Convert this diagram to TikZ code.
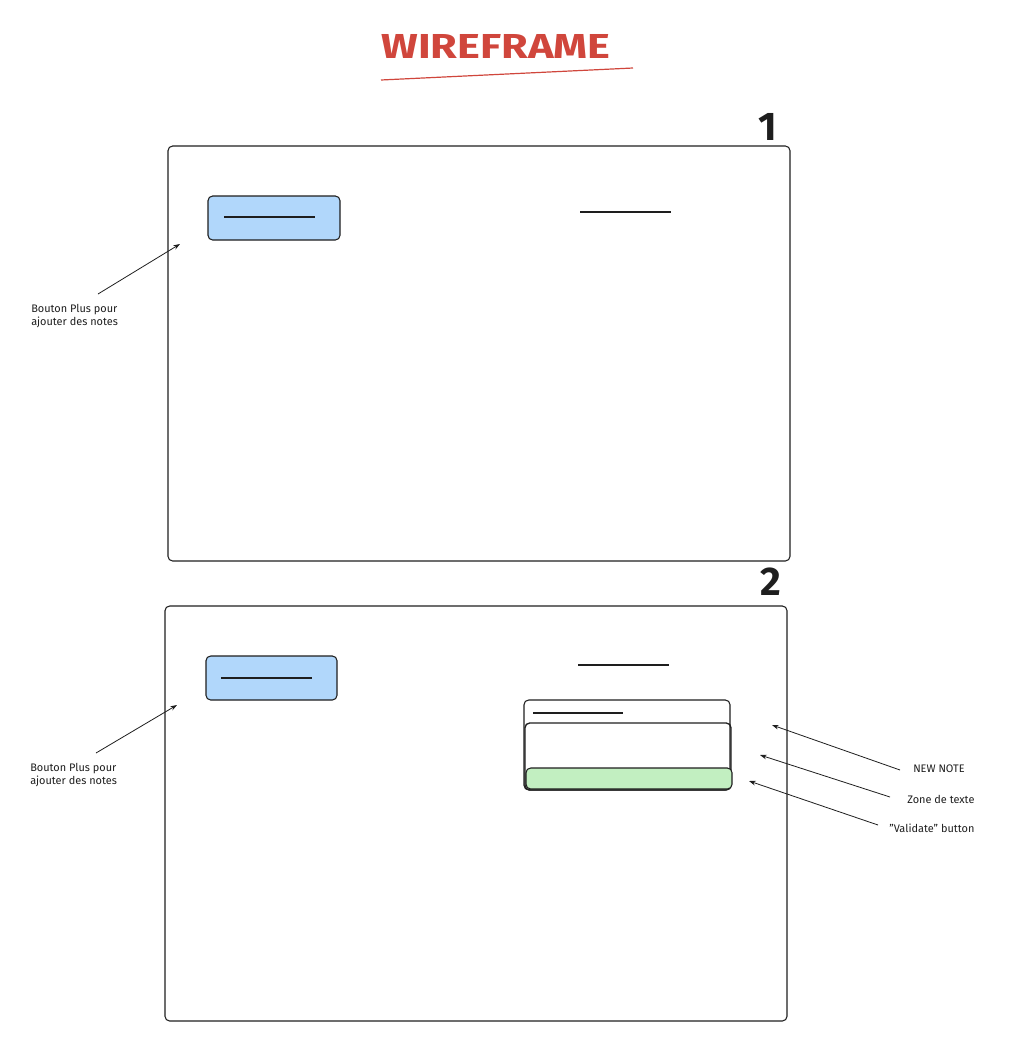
\documentclass[tikz,border=0pt]{standalone}
\usepackage{fontspec}
\setmainfont{Fira Sans}
\usetikzlibrary{arrows.meta}
\definecolor{ink}{HTML}{1E1E1E}
\definecolor{titlered}{HTML}{D0463C}
\definecolor{btnblue}{HTML}{B1D7FB}
\definecolor{btngreen}{HTML}{C2EFC1}
\begin{document}
\begin{tikzpicture}[x=0.75pt,y=-0.75pt,
  frame/.style={draw=ink,line width=0.8pt,rounded corners=3.5pt},
  bluebtn/.style={draw=ink,fill=btnblue,line width=0.8pt,rounded corners=3.5pt},
  greenbtn/.style={draw=ink,fill=btngreen,line width=0.8pt,rounded corners=3.5pt},
  bar/.style={draw=ink,line width=0.8pt},
  arr/.style={draw=ink,line width=0.6pt,-{Stealth[length=5pt,width=3.5pt]}},
  lbl/.style={font=\fontsize{8.2}{9.8}\selectfont,text=ink,inner sep=0pt,align=left},
  num/.style={font=\fontsize{30}{30}\selectfont\bfseries,text=ink,inner sep=0pt}]
\useasboundingbox (0,0) rectangle (1012,1064);
% title
\node[font=\fontsize{26}{26}\selectfont\bfseries,text=titlered,inner sep=0pt] (title) at (496,46) {\scalebox{1.25}[1]{WIREFRAME}};
\draw[titlered,line width=0.9pt] (381,80) -- (633,68);
% screen 1
\draw[frame] (168,146) rectangle (790,561);
\node[num] (n1) at (768,127) {1};
\draw[bluebtn] (208,196) rectangle (340,240);
\draw[bar] (224,217) -- (315,217);
\draw[bar] (580,212) -- (671,212);
\node[lbl,anchor=west] (lbl1) at (31,316) {Bouton Plus pour\\ajouter des notes};
\coordinate (s1) at (98,294);
\coordinate (t1) at (180,244);
\draw[arr] (s1) -- (t1);
% screen 2
\draw[frame] (165,606) rectangle (787,1021);
\node[num] (n2) at (771,582) {2};
\draw[bluebtn] (206,656) rectangle (337,700);
\draw[bar] (221,678) -- (312,678);
\draw[bar] (578,665) -- (669,665);
\node[lbl,anchor=west] (lbl2) at (30,775) {Bouton Plus pour\\ajouter des notes};
\coordinate (s2) at (96,753);
\coordinate (t2) at (177,705);
\draw[arr] (s2) -- (t2);
% note popup
\draw[frame] (524,700) rectangle (730,790);
\draw[bar] (533,713) -- (623,713);
\draw[frame,line width=1pt] (525,723) rectangle (731,790);
\draw[greenbtn] (526,768) rectangle (732,789);
% right labels
\node[lbl,anchor=west] (lnew) at (913,769) {NEW NOTE};
\node[lbl,anchor=west] (lzone) at (907,799) {Zone de texte};
\node[lbl,anchor=west] (lval) at (889,828) {"Validate" button};
\coordinate (s3) at (900,770);
\coordinate (t3) at (772,725);
\coordinate (s4) at (890,797);
\coordinate (t4) at (760,755);
\coordinate (s5) at (878,825);
\coordinate (t5) at (749,781);
\draw[arr] (s3) -- (t3);
\draw[arr] (s4) -- (t4);
\draw[arr] (s5) -- (t5);
\end{tikzpicture}
\end{document}
